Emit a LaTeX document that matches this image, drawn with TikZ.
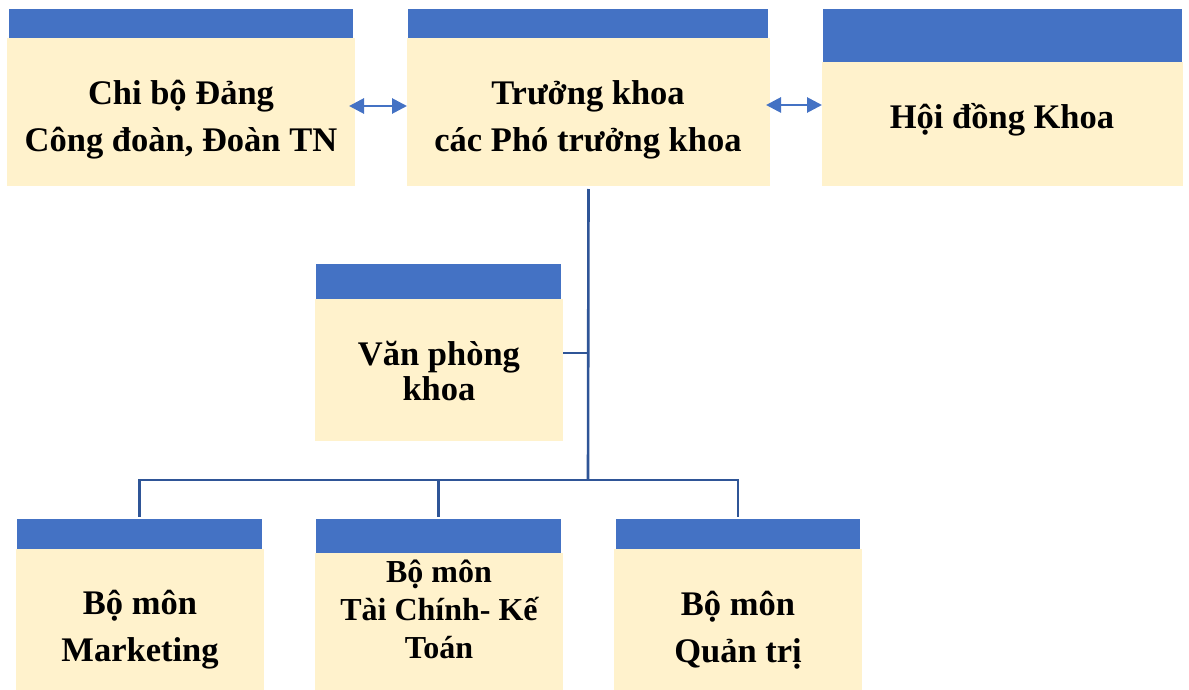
\documentclass[tikz,border=0pt]{standalone}
\usepackage{fontspec}
\setmainfont{Liberation Serif}
\usetikzlibrary{arrows.meta}
\definecolor{hdrblue}{HTML}{4472C4}
\definecolor{bodyfill}{HTML}{FFF2CC}
\definecolor{linkblue}{HTML}{2F5597}
\begin{document}
\begin{tikzpicture}[x=1pt,y=-1pt,
  bodybox/.style={fill=bodyfill, inner sep=0pt, outer sep=0pt},
  headbar/.style={fill=hdrblue, inner sep=0pt, outer sep=0pt},
  txt/.style={font=\bfseries\fontsize{34.5}{47}\selectfont, align=center, inner sep=0pt},
  link/.style={draw=linkblue, line width=2.6pt},
  twoway/.style={draw=hdrblue, line width=2.8pt,
    {Triangle[length=15pt,width=15pt]}-{Triangle[length=15pt,width=15pt]}}
]
\useasboundingbox (0,0) rectangle (1189,690);

% top row
\node[bodybox, minimum width=348pt, minimum height=148pt] (cb) at (181,112) {};
\node[headbar, minimum width=344pt, minimum height=29pt] (cbh) at (181,23.5) {};
\node[txt] (cbt) at (181,120) {Chi bộ Đảng\\Công đoàn, Đoàn TN};

\node[bodybox, minimum width=363pt, minimum height=148pt] (tk) at (588.5,112) {};
\node[headbar, minimum width=360pt, minimum height=29pt] (tkh) at (588,23.5) {};
\node[txt] (tkt) at (588,120) {Trưởng khoa\\các Phó trưởng khoa};

\node[bodybox, minimum width=361pt, minimum height=124pt] (hd) at (1002.5,124) {};
\node[headbar, minimum width=359pt, minimum height=53pt] (hdh) at (1002.5,35.5) {};
\node[txt] (hdt) at (1002,120) {Hội đồng Khoa};

% office
\node[bodybox, minimum width=248pt, minimum height=142pt] (vp) at (439,370) {};
\node[headbar, minimum width=245pt, minimum height=35pt] (vph) at (438.5,281.5) {};
\node[txt, font=\bfseries\fontsize{34.5}{35}\selectfont] (vpt) at (439,371) {Văn phòng\\khoa};

% departments
\node[bodybox, minimum width=248pt, minimum height=141pt] (mk) at (140,619.5) {};
\node[headbar, minimum width=245pt, minimum height=30pt] (mkh) at (139.5,534) {};
\node[txt] (mkt) at (140,630) {Bộ môn\\Marketing};

\node[bodybox, minimum width=248pt, minimum height=137pt] (tc) at (439,621.5) {};
\node[headbar, minimum width=245pt, minimum height=34pt] (tch) at (438.5,536) {};
\node[txt, font=\bfseries\fontsize{32}{38}\selectfont] (tct) at (439,609) {Bộ môn\\Tài Chính- Kế\\Toán};

\node[bodybox, minimum width=248pt, minimum height=141pt] (qt) at (738,619.5) {};
\node[headbar, minimum width=244pt, minimum height=30pt] (qth) at (738,534) {};
\node[txt] (qtt) at (738,630) {Bộ môn\\Quản trị};

% tree connectors
\coordinate (bus) at (588,480);
\draw[link] ([yshift=-3pt]tk.south) -- (bus);
\coordinate (vpj) at ([yshift=17pt]vp.east);
\draw[link] (vpj) -- (vpj -| tk.south);
\draw[link] (bus) -| ([yshift=2pt]mkh.north);
\draw[link] (bus) -| ([yshift=2pt]qth.north);
\draw[link] (tch.north |- bus) -- ([yshift=2pt]tch.north);

% two-way links on the top row
\coordinate (a1) at ([xshift=-6pt,yshift=6pt]cb.east);
\draw[twoway] (a1) -- (a1 -| tk.west);
\coordinate (a2) at ([xshift=-4pt,yshift=7pt]tk.east);
\draw[twoway] (a2) -- (a2 -| hd.west);
\end{tikzpicture}
\end{document}
